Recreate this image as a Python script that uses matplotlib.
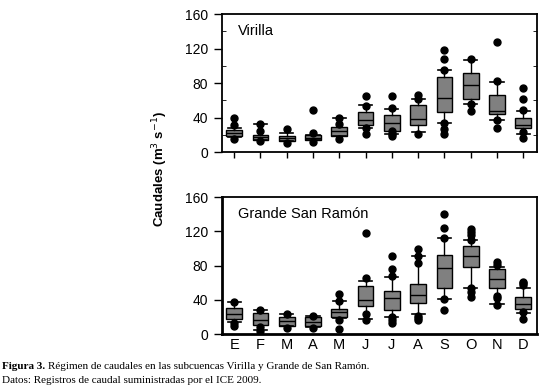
#!/usr/bin/env python3
"""Monthly discharge regime, Virilla and Grande de San Ramón sub-basins."""

import matplotlib
matplotlib.use("Agg")
from matplotlib import pyplot as plt

months = ["E", "F", "M", "A", "M", "J", "J", "A", "S", "O", "N", "D"]

# Virilla
vir_q1 = [18.5, 14, 12.5, 13.5, 18.5, 31, 25, 31, 47, 62, 44, 27.5]
vir_med = [22, 17, 16, 16.5, 24, 37, 34, 38, 63, 78, 48, 31]
vir_q3 = [25.5, 20, 18.5, 19.5, 29.5, 47, 42.5, 55, 87, 92, 66, 39]
vir_lo = [17, 14, 12.5, 13.5, 18.5, 28, 21.5, 23, 34, 56, 37, 21.5]
vir_hi = [28.5, 32, 22, 20, 39, 54.5, 50.5, 61, 95.5, 107, 81, 47.5]
vir_fliers = [
    [40, 31, 15.5],
    [32.5, 24.5, 13],
    [26.5, 11],
    [49, 22.5, 12],
    [39.5, 32, 15],
    [64.5, 53, 28, 21],
    [65.5, 51.5, 24, 21, 18.5],
    [66.5, 61, 21],
    [118.5, 107.5, 95.5, 34, 27, 21],
    [107.5, 56, 48],
    [127, 82.5, 37, 28],
    [74, 62, 49, 23, 16.5],
]

# Grande de San Ramón
gsr_q1 = [17.5, 11, 10, 9, 20, 33, 28, 36, 54, 78, 54, 29]
gsr_med = [23.5, 16.5, 15, 14.5, 25.5, 39.5, 42.5, 45.5, 77, 91, 65, 35]
gsr_q3 = [30.5, 24.5, 20, 20, 29, 56, 50, 58.5, 93, 102.5, 76, 43]
gsr_lo = [14, 4.5, 9, 8, 19, 18, 20, 23, 41, 54.5, 35.5, 24.5]
gsr_hi = [37.5, 28.5, 23, 21.5, 38.5, 62, 66.5, 91.5, 112, 109.5, 78.5, 53.5]
gsr_fliers = [
    [37.5, 13, 10],
    [28.5, 8.5, 3.5],
    [23, 7.5],
    [21.5, 7.5],
    [47.5, 38.5, 16.5, 6],
    [118, 65.5, 23.5, 16.5],
    [91, 76, 68, 19.5, 16, 12.5],
    [99, 91.5, 83, 21.5, 18.5, 16],
    [140.5, 124.5, 112, 41.5, 28.5],
    [122.5, 119.5, 116, 109.5, 54.5, 49, 43.5],
    [84.5, 81, 45, 42, 34],
    [61, 59.5, 57.5, 25.5, 18],
]


def stats(q1, med, q3, lo, hi, fliers):
    return [
        dict(q1=a, med=b, q3=c, whislo=d, whishi=e, fliers=f)
        for a, b, c, d, e, f in zip(q1, med, q3, lo, hi, fliers)
    ]


def draw(ax, st, title):
    pos = list(range(1, len(months) + 1))
    ax.bxp(
        st,
        positions=pos,
        widths=0.6,
        capwidths=0.5,
        patch_artist=True,
        boxprops=dict(facecolor="#808080", edgecolor="black", linewidth=1),
        medianprops=dict(color="black", linewidth=1),
        whiskerprops=dict(color="black", linewidth=1),
        capprops=dict(color="black", linewidth=1.2),
        flierprops=dict(marker="o", markerfacecolor="black",
                        markeredgecolor="black", markersize=5),
    )
    ax.set_xlim(0.54, 12.53)
    ax.set_ylim(0, 160)
    ax.set_yticks([0, 40, 80, 120, 160])
    ax.tick_params(axis="y", direction="out", length=6, width=1, pad=4,
                   labelsize=10)
    ax.text(0.05, 0.93, title, transform=ax.transAxes, fontsize=10.5,
            va="top", ha="left")
    for s in ax.spines.values():
        s.set_linewidth(1.3)


plt.rcParams["font.family"] = ["Liberation Sans", "DejaVu Sans"]
fig = plt.figure(figsize=(5.47, 3.89), dpi=100)
ax1 = fig.add_axes([0.406, 0.609, 0.576, 0.355])
ax2 = fig.add_axes([0.406, 0.141, 0.576, 0.352])

draw(ax1, stats(vir_q1, vir_med, vir_q3, vir_lo, vir_hi, vir_fliers), "Virilla")
draw(ax2, stats(gsr_q1, gsr_med, gsr_q3, gsr_lo, gsr_hi, gsr_fliers),
     "Grande San Ramón")

ax1.set_xticks(range(1, 13))
ax1.set_xticklabels([])
ax1.tick_params(axis="x", direction="out", length=4, width=1)
ax1.set_yticks([20, 60, 100, 140], minor=True)
ax1.tick_params(axis="y", which="minor", direction="in", length=3,
                left=True, right=True)

ax2.set_xticks(range(1, 13))
ax2.set_xticklabels(months, fontsize=10.5)
ax2.tick_params(axis="x", length=0, pad=3)
for s in ("left", "bottom"):
    ax2.spines[s].set_linewidth(2)

fig.text(0.292, 0.566, "Caudales (m$^{3}$ s$^{-1}$)", rotation=90,
         ha="center", va="center", fontsize=9.5, fontweight="bold")

cap_font = ["Liberation Serif", "DejaVu Serif"]
fig.text(0.004, 0.052, "Figura 3.", fontsize=8, fontweight="bold",
         family=cap_font)
fig.text(0.088, 0.052, "Régimen de caudales en las subcuencas Virilla y "
         "Grande de San Ramón.", fontsize=8, family=cap_font)
fig.text(0.004, 0.016, "Datos: Registros de caudal suministradas por el "
         "ICE 2009.", fontsize=8, family=cap_font)

fig.savefig("out.png", dpi=100)
